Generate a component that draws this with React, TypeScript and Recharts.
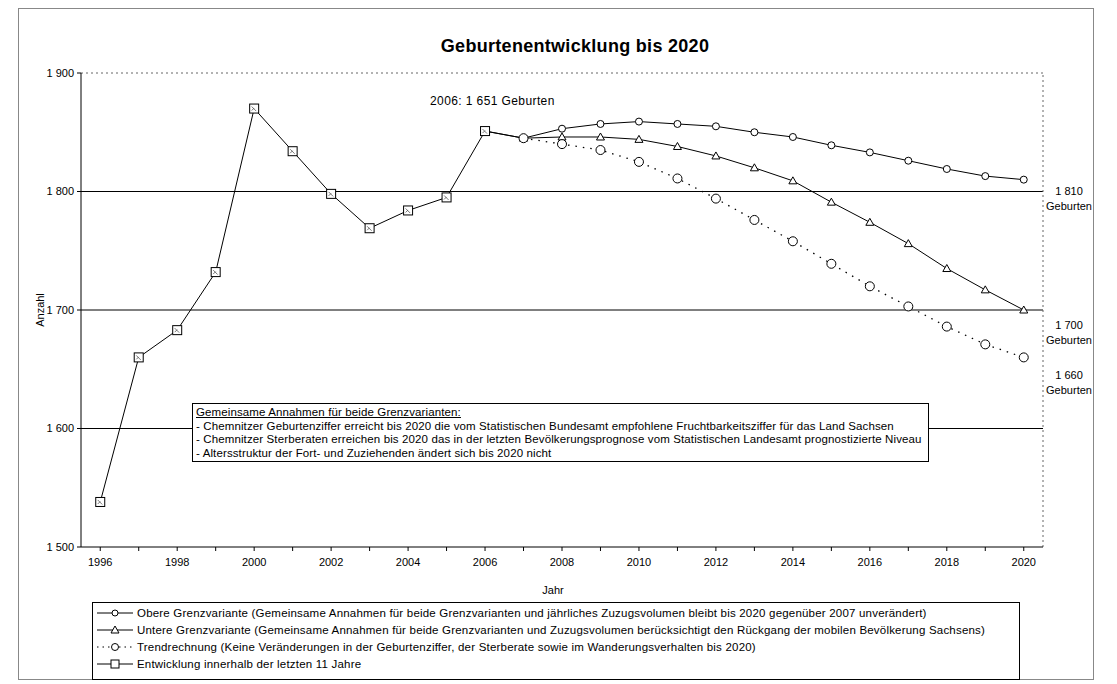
import React from 'react';
import { LineChart, Line, XAxis, YAxis, ReferenceLine } from 'recharts';

const years = [1996, 1997, 1998, 1999, 2000, 2001, 2002, 2003, 2004, 2005, 2006, 2007, 2008, 2009, 2010, 2011, 2012, 2013, 2014, 2015, 2016, 2017, 2018, 2019, 2020];
const histStart = 1996;
const histValues = [1538, 1660, 1683, 1732, 1870, 1834, 1798, 1769, 1784, 1795, 1851];
const upperStart = 2006;
const upperValues = [1851, 1845, 1853, 1857, 1859, 1857, 1855, 1850, 1846, 1839, 1833, 1826, 1819, 1813, 1810];
const lowerStart = 2006;
const lowerValues = [1851, 1845, 1846, 1846, 1844, 1838, 1830, 1820, 1809, 1791, 1774, 1756, 1735, 1717, 1700];
const trendStart = 2007;
const trendValues = [1845, 1840, 1835, 1825, 1811, 1794, 1776, 1758, 1739, 1720, 1703, 1686, 1671, 1660];
const yTicks = [1500, 1600, 1700, 1800, 1900];
const gridValues = [1600, 1700, 1800];
const endLabels = [
  { value: '1 810', top: 184 },
  { value: '1 700', top: 318 },
  { value: '1 660', top: 368 },
];

const title = 'Geburtenentwicklung bis 2020';
const note = '2006: 1 651 Geburten';
const boxTitle = 'Gemeinsame Annahmen für beide Grenzvarianten:';
const boxLines = [
  '- Chemnitzer Geburtenziffer erreicht bis 2020 die vom Statistischen Bundesamt empfohlene Fruchtbarkeitsziffer für das Land Sachsen',
  '- Chemnitzer Sterberaten erreichen bis 2020 das in der letzten Bevölkerungsprognose vom Statistischen Landesamt prognostizierte Niveau',
  '- Altersstruktur der Fort- und Zuziehenden ändert sich bis 2020 nicht',
];
const legendLabels = [
  'Obere Grenzvariante (Gemeinsame Annahmen für beide Grenzvarianten und jährliches Zuzugsvolumen bleibt bis 2020 gegenüber 2007 unverändert)',
  'Untere Grenzvariante (Gemeinsame Annahmen für beide Grenzvarianten und Zuzugsvolumen berücksichtigt den Rückgang der mobilen Bevölkerung Sachsens)',
  'Trendrechnung (Keine Veränderungen in der Geburtenziffer, der Sterberate sowie im Wanderungsverhalten bis 2020)',
  'Entwicklung innerhalb der letzten 11 Jahre',
];

const pick = (arr: number[], start: number, y: number) => {
  const i = y - start;
  return i >= 0 && i < arr.length ? arr[i] : null;
};

const data = years.map((y) => ({
  year: y,
  hist: pick(histValues, histStart, y),
  upper: pick(upperValues, upperStart, y),
  lower: pick(lowerValues, lowerStart, y),
  trend: pick(trendValues, trendStart, y),
}));

const FONT = '"Liberation Sans", Arial, sans-serif';
const fmt = (v: number) => `${Math.floor(v / 1000)} ${String(v % 1000).padStart(3, '0')}`;

const ok = (p: any) => p && p.cx != null && p.cy != null && p.value != null && !Number.isNaN(p.cy);

const CircleDot = (r: number) => (p: any) =>
  ok(p) ? <circle key={p.key} cx={p.cx} cy={p.cy} r={r} fill="#fff" stroke="#000" strokeWidth={1} /> : <g key={p.key} />;

const TriDot = (p: any) =>
  ok(p) ? (
    <path key={p.key} d={`M${p.cx},${p.cy - 4} L${p.cx + 4},${p.cy + 3} L${p.cx - 4},${p.cy + 3} Z`} fill="#fff" stroke="#000" strokeWidth={1} />
  ) : <g key={p.key} />;

const SquareDot = (p: any) =>
  ok(p) ? (
    <g key={p.key}>
      <rect x={p.cx - 4.5} y={p.cy - 4.5} width={9} height={9} fill="#fff" stroke="#000" strokeWidth={1} />
      <path d={`M${p.cx - 2.5},${p.cy - 2} L${p.cx + 2},${p.cy + 2.5} M${p.cx - 2.5},${p.cy + 2} L${p.cx},${p.cy - 0.5}`} stroke="#555" strokeWidth={0.8} />
    </g>
  ) : <g key={p.key} />;

const XTick = (p: any) => {
  const v = p.payload?.value;
  if (v % 2 !== 0) return <g />;
  return (
    <text x={p.x} y={p.y} dy="0.71em" textAnchor="middle" fontSize={11} fontFamily={FONT} fill="#000">
      {v}
    </text>
  );
};

const LegendIcon = ({ kind }: { kind: string }) => (
  <svg width={38} height={12} style={{ display: 'block', flex: 'none' }}>
    <line x1={1} y1={6} x2={37} y2={6} stroke="#000" strokeWidth={1} strokeDasharray={kind === 'trend' ? '1.5 4' : undefined} />
    {kind === 'upper' && <circle cx={19} cy={6} r={3} fill="#fff" stroke="#000" />}
    {kind === 'lower' && <path d="M19,2 L23,9 L15,9 Z" fill="#fff" stroke="#000" />}
    {kind === 'trend' && <circle cx={19} cy={6} r={3.5} fill="#fff" stroke="#000" />}
    {kind === 'hist' && <rect x={15} y={2} width={8} height={8} fill="#fff" stroke="#000" />}
  </svg>
);

const legendKinds = ['upper', 'lower', 'trend', 'hist'];

export default function App() {
  return (
    <div style={{ position: 'absolute', left: 0, top: 0, width: 1117, height: 684, background: '#fff', fontFamily: FONT, color: '#000' }}>
      <div style={{ position: 'absolute', left: 18, top: 8, width: 1076, height: 672, border: '1px solid #888', boxSizing: 'border-box' }} />
      <LineChart width={1117} height={684} data={data} margin={{ top: 73, right: 74, bottom: 107, left: 21 }}>
        <XAxis
          type="number"
          dataKey="year"
          domain={[1995.5, 2020.5]}
          ticks={years}
          interval={0}
          tick={<XTick />}
          tickSize={4}
          tickMargin={7}
          height={30}
          axisLine={{ stroke: '#000' }}
          tickLine={{ stroke: '#000' }}
          allowDataOverflow
        />
        <YAxis
          type="number"
          domain={[1500, 1900]}
          ticks={yTicks}
          interval={0}
          width={60}
          tickSize={4}
          tickMargin={3}
          tickFormatter={fmt}
          tick={{ fontSize: 11, fontFamily: FONT, fill: '#000' }}
          axisLine={{ stroke: '#000' }}
          tickLine={{ stroke: '#000' }}
        />
        {gridValues.map((g) => (
          <ReferenceLine key={g} y={g} stroke="#000" strokeWidth={1} />
        ))}
        <ReferenceLine y={1900} stroke="#666" strokeDasharray="2 3" />
        <ReferenceLine x={2020.5} stroke="#666" strokeDasharray="2 3" />
        <Line dataKey="upper" stroke="#000" strokeWidth={1} dot={CircleDot(3.5)} isAnimationActive={false} connectNulls={false} />
        <Line dataKey="lower" stroke="#000" strokeWidth={1} dot={TriDot} isAnimationActive={false} connectNulls={false} />
        <Line dataKey="trend" stroke="#000" strokeWidth={1.3} strokeDasharray="1.5 6" dot={CircleDot(4.5)} isAnimationActive={false} connectNulls={false} />
        <Line dataKey="hist" stroke="#000" strokeWidth={1} dot={SquareDot} isAnimationActive={false} connectNulls={false} />
      </LineChart>

      <div style={{ position: 'absolute', left: 0, width: 1150, top: 36, textAlign: 'center', fontSize: 18, letterSpacing: 0.3, fontWeight: 'bold' }}>{title}</div>
      <div style={{ position: 'absolute', left: 430, top: 94, fontSize: 12, letterSpacing: 0.4 }}>{note}</div>
      <div style={{ position: 'absolute', left: 40, top: 310, transform: 'translate(-50%,-50%) rotate(-90deg)', fontSize: 11 }}>Anzahl</div>
      <div style={{ position: 'absolute', left: 553, top: 584, transform: 'translateX(-50%)', fontSize: 11 }}>Jahr</div>

      {endLabels.map((l) => (
        <div key={l.value} style={{ position: 'absolute', left: 1046, width: 46, top: l.top, textAlign: 'center', fontSize: 11, lineHeight: '15px' }}>
          <div>{l.value}</div>
          <div>Geburten</div>
        </div>
      ))}

      <div style={{ position: 'absolute', left: 192, top: 403, width: 737, height: 59, border: '1px solid #000', boxSizing: 'border-box', background: '#fff', padding: '2px 3px', fontSize: 11.5, letterSpacing: 0.12, lineHeight: '13.5px', whiteSpace: 'nowrap', overflow: 'hidden' }}>
        <div style={{ textDecoration: 'underline' }}>{boxTitle}</div>
        {boxLines.map((t) => (
          <div key={t}>{t}</div>
        ))}
      </div>

      <div style={{ position: 'absolute', left: 92, top: 602, width: 928, height: 78, border: '1px solid #000', boxSizing: 'border-box', background: '#fff', padding: '1px 0 0 3px', fontSize: 11.5, letterSpacing: 0.2, whiteSpace: 'nowrap' }}>
        {legendLabels.map((t, i) => (
          <div key={t} style={{ display: 'flex', alignItems: 'center', height: 17 }}>
            <LegendIcon kind={legendKinds[i]} />
            <span style={{ marginLeft: 3 }}>{t}</span>
          </div>
        ))}
      </div>
    </div>
  );
}
